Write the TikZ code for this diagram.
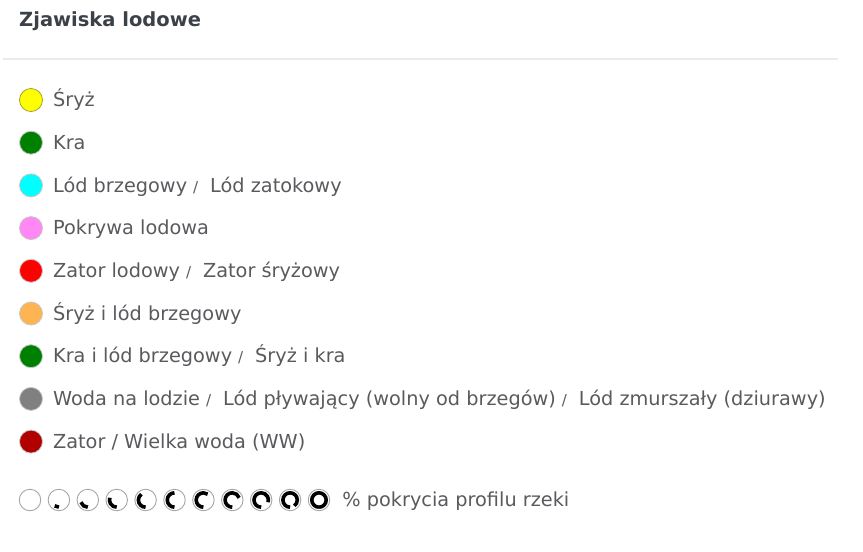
\documentclass[tikz,border=0pt]{standalone}
\usepackage{fontspec}
\setmainfont{DejaVu Sans}
\usetikzlibrary{positioning}

\definecolor{txtgray}{HTML}{5A5A5E}
\definecolor{titlegray}{HTML}{3C4048}
\definecolor{rulegray}{HTML}{EBEBEB}
\definecolor{cSryz}{HTML}{FFFF00}
\definecolor{cKra}{HTML}{008000}
\definecolor{cBrzeg}{HTML}{00FFFF}
\definecolor{cPokr}{HTML}{FF88F4}
\definecolor{cZator}{HTML}{FF0000}
\definecolor{cSryzB}{HTML}{FFB452}
\definecolor{cWoda}{HTML}{808080}
\definecolor{cWW}{HTML}{B00000}

\newcommand{\slsep}{\hspace{6pt}{\fontsize{15}{15}\selectfont/}\hspace{12pt}}

\begin{document}
\begin{tikzpicture}[
    x=1pt,y=-1pt,
    dot/.style={circle,draw=black!22,line width=0.8pt,minimum size=23pt,inner sep=0pt},
    lbl/.style={right=10pt of #1,inner sep=0pt,text height=15pt,text depth=1.5pt,text=txtgray,font=\fontsize{19.3}{22}\selectfont},
    ring/.style={circle,draw=black!35,line width=0.9pt,minimum size=21.5pt,inner sep=0pt},
    pie/.style={line width=3.6pt,black},
    node distance=18.9pt,
]
    \useasboundingbox (0,0) rectangle (863,552);

    \node[anchor=west,inner sep=0pt,text=titlegray,font=\bfseries\fontsize{19.5}{24}\selectfont] (title) at (19,21) {Zjawiska lodowe};
    \draw[rulegray,line width=2pt] (3,59) -- (838,59);

    \node[dot,fill=cSryz,draw=black!30!cSryz!70!gray] (d1) at (31,100) {};
    \node[lbl=d1] (t1) {Śryż};
    \node[dot,fill=cKra,below=of d1] (d2) {};
    \node[lbl=d2] (t2) {Kra};
    \node[dot,fill=cBrzeg,below=of d2] (d3) {};
    \node[lbl=d3] (t3) {Lód brzegowy\slsep Lód zatokowy};
    \node[dot,fill=cPokr,below=of d3] (d4) {};
    \node[lbl=d4] (t4) {Pokrywa lodowa};
    \node[dot,fill=cZator,below=of d4] (d5) {};
    \node[lbl=d5] (t5) {Zator lodowy\slsep Zator śryżowy};
    \node[dot,fill=cSryzB,below=of d5] (d6) {};
    \node[lbl=d6] (t6) {Śryż i lód brzegowy};
    \node[dot,fill=cKra,below=of d6] (d7) {};
    \node[lbl=d7] (t7) {Kra i lód brzegowy\slsep Śryż i kra};
    \node[dot,fill=cWoda,below=of d7] (d8) {};
    \node[lbl=d8] (t8) {Woda na lodzie\slsep Lód pływający (wolny od brzegów)\slsep Lód zmurszały (dziurawy)};
    \node[dot,fill=cWW,below=of d8] (d9) {};
    \node[lbl=d9] (t9) {Zator / Wielka woda (WW)};

    % pokrycie profilu: 0%..100%
    \foreach \i in {0,...,10} {
        \node[ring] (p\i) at (30+28.9*\i,500) {};
        \ifnum\i>0
            \draw[pie] (p\i.center) ++(90:7.2) arc[start angle=90,delta angle=36*\i,radius=7.2];
        \fi
    }
    \node[lbl=p10,right=12pt of p10] (tp) {\% pokrycia profilu rzeki};
\end{tikzpicture}
\end{document}
